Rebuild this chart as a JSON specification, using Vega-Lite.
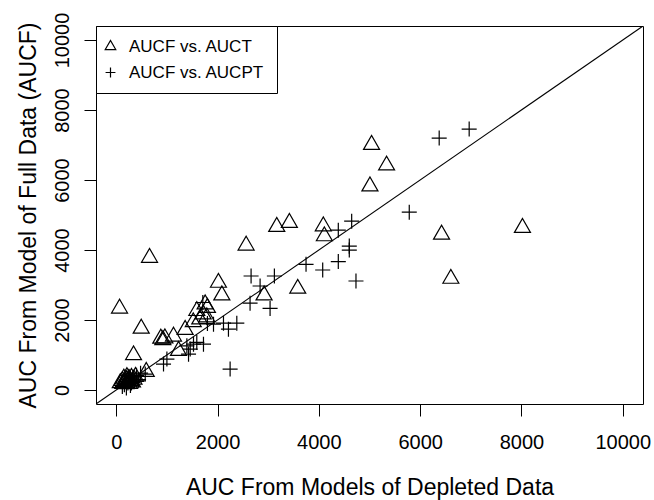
{
  "$schema": "https://vega.github.io/schema/vega-lite/v6.json",
  "width": 547,
  "height": 378,
  "autosize": {"type": "none"},
  "padding": {"left": 96, "top": 26, "right": 11, "bottom": 96},
  "background": "white",
  "config": {
    "font": "Liberation Sans",
    "view": {"stroke": "black", "strokeWidth": 1},
    "axis": {
      "domain": false,
      "grid": false,
      "tickColor": "black",
      "tickSize": 12,
      "tickWidth": 1,
      "labelFont": "Liberation Sans",
      "labelFontSize": 20,
      "labelColor": "black",
      "titleFont": "Liberation Sans",
      "titleFontSize": 23,
      "titleFontWeight": "normal",
      "titleColor": "black"
    },
    "legend": {
      "orient": "top-left",
      "offset": 0,
      "padding": 12,
      "strokeColor": "black",
      "fillColor": "white",
      "cornerRadius": 0,
      "rowPadding": 8,
      "symbolSize": 110,
      "symbolOffset": -6,
      "symbolStrokeWidth": 1.2,
      "symbolStrokeColor": "black",
      "symbolFillColor": "transparent",
      "labelFont": "Liberation Sans",
      "labelFontSize": 17,
      "labelColor": "black",
      "labelOffset": 10,
      "labelLimit": 300
    }
  },
  "encoding": {
    "x": {
      "field": "x",
      "type": "quantitative",
      "scale": {"domain": [-400, 10400], "nice": false, "zero": false},
      "axis": {
        "title": "AUC From Models of Depleted Data",
        "values": [0, 2000, 4000, 6000, 8000, 10000],
        "format": "d",
        "labelPadding": 16,
        "titlePadding": 24,
        "labelFlush": false
      }
    },
    "y": {
      "field": "y",
      "type": "quantitative",
      "scale": {"domain": [-400, 10400], "nice": false, "zero": false},
      "axis": {
        "title": "AUC From Model of Full Data (AUCF)",
        "values": [0, 2000, 4000, 6000, 8000, 10000],
        "format": "d",
        "labelAngle": -90,
        "labelAlign": "center",
        "labelBaseline": "bottom",
        "labelPadding": 12,
        "titlePadding": 12,
        "labelFlush": false
      }
    }
  },
  "layer": [
    {
      "data": {"values": [{"x": -400, "y": -400}, {"x": 10400, "y": 10400}]},
      "mark": {"type": "line", "color": "black", "strokeWidth": 1.1, "clip": true}
    },
    {
      "data": {
        "values": [
          {"series": "AUCF vs. AUCT", "x": 65, "y": 2330},
          {"series": "AUCF vs. AUCT", "x": 493, "y": 1757},
          {"series": "AUCF vs. AUCT", "x": 880, "y": 1470},
          {"series": "AUCF vs. AUCT", "x": 920, "y": 1430},
          {"series": "AUCF vs. AUCT", "x": 960, "y": 1480},
          {"series": "AUCF vs. AUCT", "x": 1130, "y": 1530},
          {"series": "AUCF vs. AUCT", "x": 1360, "y": 1720},
          {"series": "AUCF vs. AUCT", "x": 1230, "y": 1120},
          {"series": "AUCF vs. AUCT", "x": 341, "y": 997},
          {"series": "AUCF vs. AUCT", "x": 592, "y": 521},
          {"series": "AUCF vs. AUCT", "x": 1590, "y": 2260},
          {"series": "AUCF vs. AUCT", "x": 1755, "y": 2450},
          {"series": "AUCF vs. AUCT", "x": 1716, "y": 2165},
          {"series": "AUCF vs. AUCT", "x": 1788, "y": 2080},
          {"series": "AUCF vs. AUCT", "x": 1520, "y": 1940},
          {"series": "AUCF vs. AUCT", "x": 1650, "y": 2020},
          {"series": "AUCF vs. AUCT", "x": 1800, "y": 2350},
          {"series": "AUCF vs. AUCT", "x": 2017, "y": 3068},
          {"series": "AUCF vs. AUCT", "x": 2085, "y": 2707},
          {"series": "AUCF vs. AUCT", "x": 2919, "y": 2707},
          {"series": "AUCF vs. AUCT", "x": 3583, "y": 2897},
          {"series": "AUCF vs. AUCT", "x": 657, "y": 3780},
          {"series": "AUCF vs. AUCT", "x": 2564, "y": 4131},
          {"series": "AUCF vs. AUCT", "x": 3169, "y": 4664},
          {"series": "AUCF vs. AUCT", "x": 3418, "y": 4778},
          {"series": "AUCF vs. AUCT", "x": 4088, "y": 4681},
          {"series": "AUCF vs. AUCT", "x": 4108, "y": 4396},
          {"series": "AUCF vs. AUCT", "x": 5041, "y": 7008},
          {"series": "AUCF vs. AUCT", "x": 5337, "y": 6419},
          {"series": "AUCF vs. AUCT", "x": 5009, "y": 5820},
          {"series": "AUCF vs. AUCT", "x": 6423, "y": 4444},
          {"series": "AUCF vs. AUCT", "x": 8020, "y": 4635},
          {"series": "AUCF vs. AUCT", "x": 6606, "y": 3182},
          {"series": "AUCF vs. AUCT", "x": 80, "y": 200},
          {"series": "AUCF vs. AUCT", "x": 120, "y": 260},
          {"series": "AUCF vs. AUCT", "x": 150, "y": 330},
          {"series": "AUCF vs. AUCT", "x": 170, "y": 220},
          {"series": "AUCF vs. AUCT", "x": 200, "y": 290},
          {"series": "AUCF vs. AUCT", "x": 210, "y": 370},
          {"series": "AUCF vs. AUCT", "x": 240, "y": 250},
          {"series": "AUCF vs. AUCT", "x": 250, "y": 320},
          {"series": "AUCF vs. AUCT", "x": 280, "y": 260},
          {"series": "AUCF vs. AUCT", "x": 300, "y": 350},
          {"series": "AUCF vs. AUCT", "x": 320, "y": 220},
          {"series": "AUCF vs. AUCT", "x": 350, "y": 300},
          {"series": "AUCF vs. AUCT", "x": 380, "y": 380},
          {"series": "AUCF vs. AUCT", "x": 190, "y": 170},
          {"series": "AUCF vs. AUCT", "x": 130, "y": 180},
          {"series": "AUCF vs. AUCT", "x": 260, "y": 180},
          {"series": "AUCF vs. AUCPT", "x": 2642, "y": 2480},
          {"series": "AUCF vs. AUCPT", "x": 3037, "y": 2330},
          {"series": "AUCF vs. AUCPT", "x": 2248, "y": 598},
          {"series": "AUCF vs. AUCPT", "x": 1920, "y": 1880},
          {"series": "AUCF vs. AUCPT", "x": 2117, "y": 1910},
          {"series": "AUCF vs. AUCPT", "x": 2215, "y": 1738},
          {"series": "AUCF vs. AUCPT", "x": 2380, "y": 1910},
          {"series": "AUCF vs. AUCPT", "x": 1800, "y": 1900},
          {"series": "AUCF vs. AUCPT", "x": 1722, "y": 1310},
          {"series": "AUCF vs. AUCPT", "x": 1460, "y": 1170},
          {"series": "AUCF vs. AUCPT", "x": 1394, "y": 1262},
          {"series": "AUCF vs. AUCPT", "x": 1525, "y": 1310},
          {"series": "AUCF vs. AUCPT", "x": 1427, "y": 1025},
          {"series": "AUCF vs. AUCPT", "x": 1000, "y": 883},
          {"series": "AUCF vs. AUCPT", "x": 933, "y": 740},
          {"series": "AUCF vs. AUCPT", "x": 1590, "y": 1360},
          {"series": "AUCF vs. AUCPT", "x": 2662, "y": 3257},
          {"series": "AUCF vs. AUCPT", "x": 2840, "y": 2971},
          {"series": "AUCF vs. AUCPT", "x": 3122, "y": 3257},
          {"series": "AUCF vs. AUCPT", "x": 3747, "y": 3590},
          {"series": "AUCF vs. AUCPT", "x": 4076, "y": 3428},
          {"series": "AUCF vs. AUCPT", "x": 4384, "y": 3670},
          {"series": "AUCF vs. AUCPT", "x": 4384, "y": 4567},
          {"series": "AUCF vs. AUCPT", "x": 1709, "y": 2500},
          {"series": "AUCF vs. AUCPT", "x": 6376, "y": 7199},
          {"series": "AUCF vs. AUCPT", "x": 6968, "y": 7455},
          {"series": "AUCF vs. AUCPT", "x": 5785, "y": 5080},
          {"series": "AUCF vs. AUCPT", "x": 4648, "y": 4824},
          {"series": "AUCF vs. AUCPT", "x": 4601, "y": 4111},
          {"series": "AUCF vs. AUCPT", "x": 4601, "y": 3997},
          {"series": "AUCF vs. AUCPT", "x": 4733, "y": 3114},
          {"series": "AUCF vs. AUCPT", "x": 572, "y": 456},
          {"series": "AUCF vs. AUCPT", "x": 434, "y": 265},
          {"series": "AUCF vs. AUCPT", "x": 120, "y": 100},
          {"series": "AUCF vs. AUCPT", "x": 160, "y": 150},
          {"series": "AUCF vs. AUCPT", "x": 200, "y": 60},
          {"series": "AUCF vs. AUCPT", "x": 230, "y": 200},
          {"series": "AUCF vs. AUCPT", "x": 260, "y": 280},
          {"series": "AUCF vs. AUCPT", "x": 280, "y": 130},
          {"series": "AUCF vs. AUCPT", "x": 300, "y": 200},
          {"series": "AUCF vs. AUCPT", "x": 330, "y": 350},
          {"series": "AUCF vs. AUCPT", "x": 360, "y": 250},
          {"series": "AUCF vs. AUCPT", "x": 400, "y": 420},
          {"series": "AUCF vs. AUCPT", "x": 440, "y": 300},
          {"series": "AUCF vs. AUCPT", "x": 480, "y": 480},
          {"series": "AUCF vs. AUCPT", "x": 250, "y": 380},
          {"series": "AUCF vs. AUCPT", "x": 180, "y": 250}
        ]
      },
      "mark": {"type": "point", "filled": false, "color": "black", "strokeWidth": 1.2, "size": 256, "opacity": 1},
      "encoding": {
        "shape": {
          "field": "series",
          "type": "nominal",
          "scale": {
            "domain": ["AUCF vs. AUCT", "AUCF vs. AUCPT"],
            "range": ["M-1,0.577L0,-1.155L1,0.577Z", "M-0.94,0L0.94,0M0,-0.94L0,0.94"]
          },
          "legend": {"title": null}
        }
      }
    }
  ]
}
